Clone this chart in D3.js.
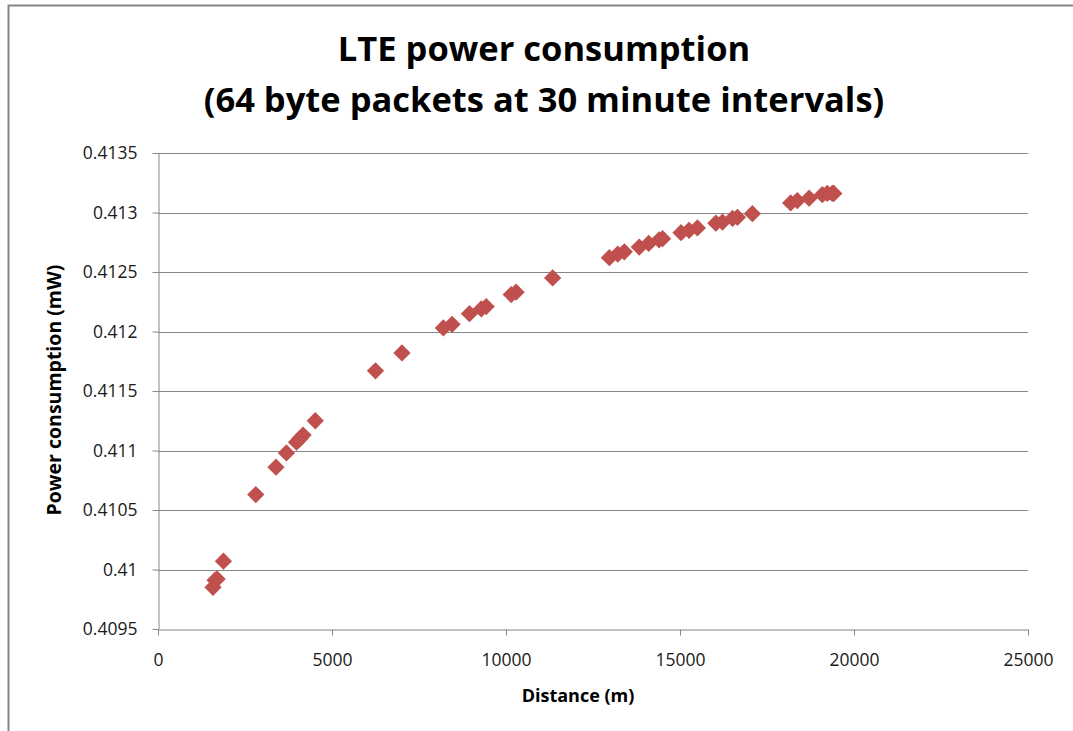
<!DOCTYPE html>
<html>
<head>
<meta charset="utf-8">
<script src="https://cdn.jsdelivr.net/npm/d3@7"></script>
<style>
  body { margin: 0; background: #fff; }
  text { font-family: "Open Sans", "Liberation Sans", sans-serif; }
</style>
</head>
<body>
<script>
// distance (m) and power consumption (mW)
var distance = [1580, 1640, 1700, 1880, 2810, 3390, 3690, 3980, 4080, 4170, 4520,
  6250, 7010, 8200, 8450, 8950, 9290, 9430, 10150, 10290, 11340,
  12970, 13210, 13400, 13830, 14100, 14400, 14500, 15030, 15260, 15500,
  16030, 16220, 16510, 16650, 17080, 18180, 18370, 18710, 19090, 19230, 19375, 19420];
var power = [0.40985, 0.40991, 0.40992, 0.41007, 0.41063, 0.41086, 0.41098, 0.41107, 0.4111, 0.41113, 0.41125,
  0.41167, 0.41182, 0.41203, 0.41206, 0.41215, 0.41219, 0.41221, 0.41231, 0.41233, 0.41245,
  0.41262, 0.41265, 0.41267, 0.41271, 0.41274, 0.41277, 0.41278, 0.41283, 0.41285, 0.41287,
  0.41291, 0.41292, 0.41295, 0.41296, 0.41299, 0.41308, 0.4131, 0.41312, 0.41315, 0.41316, 0.41316, 0.41316];
var xTicks = [0, 5000, 10000, 15000, 20000, 25000];
var yTicks = [0.4095, 0.41, 0.4105, 0.411, 0.4115, 0.412, 0.4125, 0.413, 0.4135];
var titleLines = ["LTE power consumption", "(64 byte packets at 30 minute intervals)"];

var width = 1073, height = 731;
var svg = d3.select("body").append("svg")
  .attr("width", width)
  .attr("height", height);

// chart frame
svg.append("rect")
  .attr("x", 8.5).attr("y", 5.5)
  .attr("width", 1080).attr("height", 740)
  .attr("fill", "none")
  .attr("stroke", "#868686")
  .attr("stroke-width", 2);

var x = d3.scaleLinear().domain([0, 25000]).range([158, 1028]);
var y = d3.scaleLinear().domain([0.4095, 0.4135]).range([629, 153]);

// gridlines
svg.append("g").selectAll("line")
  .data(yTicks.slice(1))
  .enter().append("line")
  .attr("x1", x(0)).attr("x2", x(25000))
  .attr("y1", function(d) { return Math.round(y(d)) + 0.5; })
  .attr("y2", function(d) { return Math.round(y(d)) + 0.5; })
  .attr("stroke", "#868686");

var xAxis = svg.append("g")
  .attr("transform", "translate(0," + (Math.round(y(0.4095)) + 0.5) + ")")
  .call(d3.axisBottom(x).tickValues(xTicks).tickSize(6).tickSizeOuter(0).tickFormat(d3.format("d")));
var yAxis = svg.append("g")
  .attr("transform", "translate(" + (Math.round(x(0)) + 0.5) + ",0)")
  .call(d3.axisLeft(y).tickValues(yTicks).tickSize(6).tickSizeOuter(0).tickFormat(function(d) { return +d.toFixed(4); }));

[xAxis, yAxis].forEach(function(a) {
  a.select(".domain").attr("stroke", "#868686");
  a.selectAll(".tick line").attr("stroke", "#868686");
  a.selectAll(".tick text")
    .attr("fill", "#1a1a1a")
    .style("font-size", "17.5px")
    .style("font-family", "'Open Sans', sans-serif");
});
xAxis.selectAll(".tick text").attr("dy", "1.1em").attr("y", 17);
yAxis.selectAll(".tick text").attr("x", -21);

// markers
svg.append("g").selectAll("path")
  .data(distance)
  .enter().append("path")
  .attr("d", d3.symbol().type(d3.symbolDiamond2).size(190))
  .attr("transform", function(d, i) { return "translate(" + x(d) + "," + y(power[i]) + ")"; })
  .attr("fill", "#C0504D");

// titles
svg.append("g").selectAll("text")
  .data(titleLines)
  .enter().append("text")
  .attr("x", 544)
  .attr("y", function(d, i) { return 61 + i * 51; })
  .attr("text-anchor", "middle")
  .style("font-size", "34.5px")
  .style("font-weight", "bold")
  .attr("fill", "#000")
  .text(function(d) { return d; });

svg.append("text")
  .attr("x", 578).attr("y", 702)
  .attr("text-anchor", "middle")
  .style("font-size", "18px")
  .style("font-weight", "bold")
  .text("Distance (m)");

svg.append("text")
  .attr("transform", "translate(61,390) rotate(-90)")
  .attr("text-anchor", "middle")
  .style("font-size", "19.5px")
  .style("font-weight", "bold")
  .text("Power consumption  (mW)");
</script>
</body>
</html>
